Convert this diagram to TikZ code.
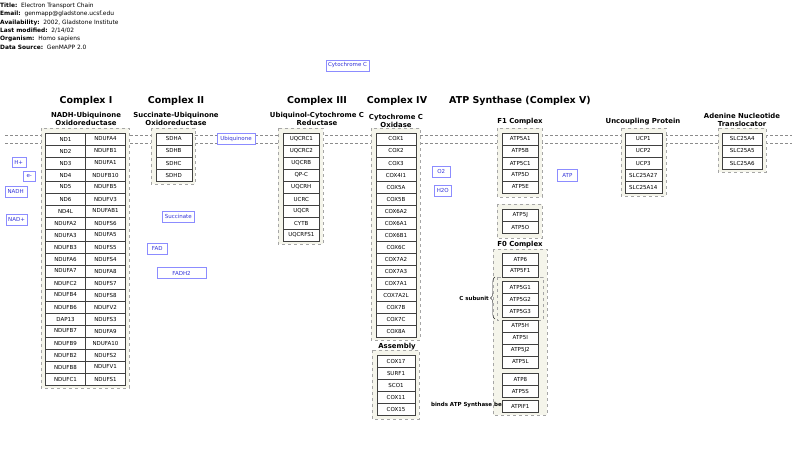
\documentclass[tikz,border=0pt]{standalone}
\usepackage{fontspec}
\setmainfont{DejaVu Sans}
\usetikzlibrary{positioning, decorations.pathreplacing}
\definecolor{cLabelBlue}{rgb}{0.2, 0.2, 0.85}
\definecolor{cBoxBlue}{rgb}{0.55, 0.55, 1}
\definecolor{cGroupFill}{rgb}{0.96, 0.96, 0.92}
\newcommand{\genefont}{\fontsize{5.5}{6.5}\selectfont}
\newcommand{\headfont}{\fontsize{5.9}{7}\selectfont}
\newcommand{\titlefont}{\fontsize{9.5}{11}\selectfont\bfseries}
\newcommand{\subfont}{\fontsize{6.9}{8}\selectfont\bfseries}

\begin{document}
\begin{tikzpicture}[x=1pt, y=-1pt,
    gene/.style={rectangle, draw=black!75, fill=white, minimum height=12pt, inner sep=0pt, font=\genefont},
    group/.style={draw=black!35, dashed, fill=cGroupFill},
    membrane/.style={draw=black!45, dashed, dash pattern=on 3pt off 2pt},
    lbl/.style={rectangle, draw=cBoxBlue, fill=white, text=cLabelBlue, minimum height=11pt, inner sep=1pt, font=\genefont},
    title/.style={font=\titlefont},
    subtitle/.style={font=\subfont, align=center},
    header/.style={anchor=west, inner sep=0pt, font=\headfont}
]
\useasboundingbox (0,0) rectangle (800,454);

% Header
\foreach \k/\v [count=\i] in {Title/Electron Transport Chain, Email/genmapp@gladstone.ucsf.edu,
    Availability/{2002, Gladstone Institute}, Last modified/{2/14/02}, Organism/Homo sapiens, Data Source/GenMAPP 2.0}
  \node[header] (hd\i) at (0, {6+8.2*(\i-1)}) {\textbf{\k:}~~\v};

% Membrane
\draw[membrane] (5,135) -- (792,135);
\draw[membrane] (5,143) -- (792,143);

% Groups
\draw[group] (41,128) rectangle (129,388);
\draw[group] (151,128) rectangle (195,184);
\draw[group] (278,128) rectangle (323,244);
\draw[group] (371,128) rectangle (420,340);
\draw[group] (372,350) rectangle (419,419);
\draw[group] (497,128) rectangle (542,197);
\draw[group] (497,204) rectangle (542,238);
\draw[group] (493,249) rectangle (547,415);
\draw[group] (497,277) rectangle (543,320);
\draw[group] (621,128) rectangle (666,196);
\draw[group] (718,128) rectangle (766,172);

% Titles
\node[title] (t1) at (86,101) {Complex I};
\node[title] (t2) at (176,101) {Complex II};
\node[title] (t3) at (317,101) {Complex III};
\node[title] (t4) at (397,101) {Complex IV};
\node[title] (t5) at (520,101) {ATP Synthase (Complex V)};
\node[subtitle] (s1) at (86,119) {NADH-Ubiquinone\\Oxidoreductase};
\node[subtitle] (s2) at (176,119) {Succinate-Ubiquinone\\Oxidoreductase};
\node[subtitle] (s3) at (317,119) {Ubiquinol-Cytochrome C\\Reductase};
\node[subtitle] (s4) at (396,121) {Cytochrome C\\Oxidase};
\node[subtitle] (sAsm) at (397,347) {Assembly};
\node[subtitle] (sF1) at (520,122) {F1 Complex};
\node[subtitle] (sF0) at (520,245) {F0 Complex};
\node[subtitle] (sUcp) at (643,122) {Uncoupling Protein};
\node[subtitle] (sAnt) at (742,120) {Adenine Nucleotide\\Translocator};

% Complex I
\foreach \g [count=\i] in {ND1,ND2,ND3,ND4,ND5,ND6,ND4L,NDUFA2,NDUFA3,NDUFB3,NDUFA6,NDUFA7,NDUFC2,NDUFB4,NDUFB6,DAP13,NDUFB7,NDUFB9,NDUFB2,NDUFB8,NDUFC1}
  \node[gene, minimum width=40pt] (c1a\i) at (65.5,127+12*\i) {\g};
\foreach \g [count=\i] in {NDUFA4,NDUFB1,NDUFA1,NDUFB10,NDUFB5,NDUFV3,NDUFAB1,NDUFS6,NDUFA5,NDUFS5,NDUFS4,NDUFA8,NDUFS7,NDUFS8,NDUFV2,NDUFS3,NDUFA9,NDUFA10,NDUFS2,NDUFV1,NDUFS1}
  \node[gene, minimum width=40pt] (c1b\i) at (105.5,127+12*\i) {\g};

% Complex II and III
\foreach \g [count=\i] in {SDHA,SDHB,SDHC,SDHD}
  \node[gene, minimum width=36pt] (c2\i) at (173.7,127+12*\i) {\g};
\foreach \g [count=\i] in {UQCRC1,UQCRC2,UQCRB,QP-C,UQCRH,UCRC,UQCR,CYTB,UQCRFS1}
  \node[gene, minimum width=36pt] (c3\i) at (301.3,127+12*\i) {\g};

% Complex IV
\foreach \g [count=\i] in {COX1,COX2,COX3,COX4I1,COX5A,COX5B,COX6A2,COX6A1,COX6B1,COX6C,COX7A2,COX7A3,COX7A1,COX7A2L,COX7B,COX7C,COX8A}
  \node[gene, minimum width=40pt] (c4\i) at (396,127+12*\i) {\g};
\foreach \g [count=\i] in {COX17,SURF1,SCO1,COX11,COX15}
  \node[gene, minimum width=38pt] (asm\i) at (396,349+12*\i) {\g};

% ATP Synthase
\foreach \g [count=\i] in {ATP5A1,ATP5B,ATP5C1,ATP5D,ATP5E}
  \node[gene, minimum width=36pt] (f1\i) at (520.3,127+12*\i) {\g};
\node[gene, minimum width=36pt] (atp5j) at (520.3,215) {ATP5J};
\node[gene, minimum width=36pt] (atp5o) at (520.3,227) {ATP5O};
\foreach \g/\yy [count=\i] in {ATP6/259,ATP5F1/271,ATP5G1/287,ATP5G2/299,ATP5G3/311,ATP5H/326,ATP5I/338,ATP5J2/350,ATP5L/362,ATP8/379,ATP5S/391,ATPIF1/406}
  \node[gene, minimum width=36pt] (f0\i) at (520.3,\yy) {\g};

% C subunit brace
\draw[decorate, decoration={brace, amplitude=4.5pt}, black!85, thin] (495,319) -- (495,277);
\node[font=\genefont\bfseries, anchor=east, inner sep=0pt] (csub) at (489,298) {C subunit};
\node[font=\genefont\bfseries, anchor=east, inner sep=0pt] (binds) at (502,405) {binds ATP Synthase be};

% Uncoupling protein and translocator
\foreach \g [count=\i] in {UCP1,UCP2,UCP3,SLC25A27,SLC25A14}
  \node[gene, minimum width=37pt] (ucp\i) at (643.3,127+12*\i) {\g};
\foreach \g [count=\i] in {SLC25A4,SLC25A5,SLC25A6}
  \node[gene, minimum width=40pt] (ant\i) at (742.3,127+12*\i) {\g};

% Metabolites
\node[lbl, minimum width=43pt] (cytc) at (347.5,65.3) {Cytochrome C};
\node[lbl, minimum width=14pt, minimum height=9.5pt] (hplus) at (18.7,162.2) {H+};
\node[lbl, minimum width=11.7pt, minimum height=9.5pt] (eminus) at (29.2,176.3) {e-};
\node[lbl, minimum width=22pt] (nadh) at (15.7,191.7) {NADH};
\node[lbl, minimum width=21.6pt] (nadplus) at (16.5,219.7) {NAD+};
\node[lbl, minimum width=38pt] (ubq) at (236,138.7) {Ubiquinone};
\node[lbl, minimum width=32pt] (succ) at (178.3,216.5) {Succinate};
\node[lbl, minimum width=19.3pt] (fad) at (157.3,248.5) {FAD};
\node[lbl, minimum width=48.4pt] (fadh) at (181.5,273.2) {FADH2};
\node[lbl, minimum width=17.7pt] (otwo) at (441.2,171.7) {O2};
\node[lbl, minimum width=17.7pt] (water) at (442.8,190.8) {H2O};
\node[lbl, minimum width=20pt, minimum height=12pt] (atp) at (567.3,175) {ATP};

\end{tikzpicture}
\end{document}
